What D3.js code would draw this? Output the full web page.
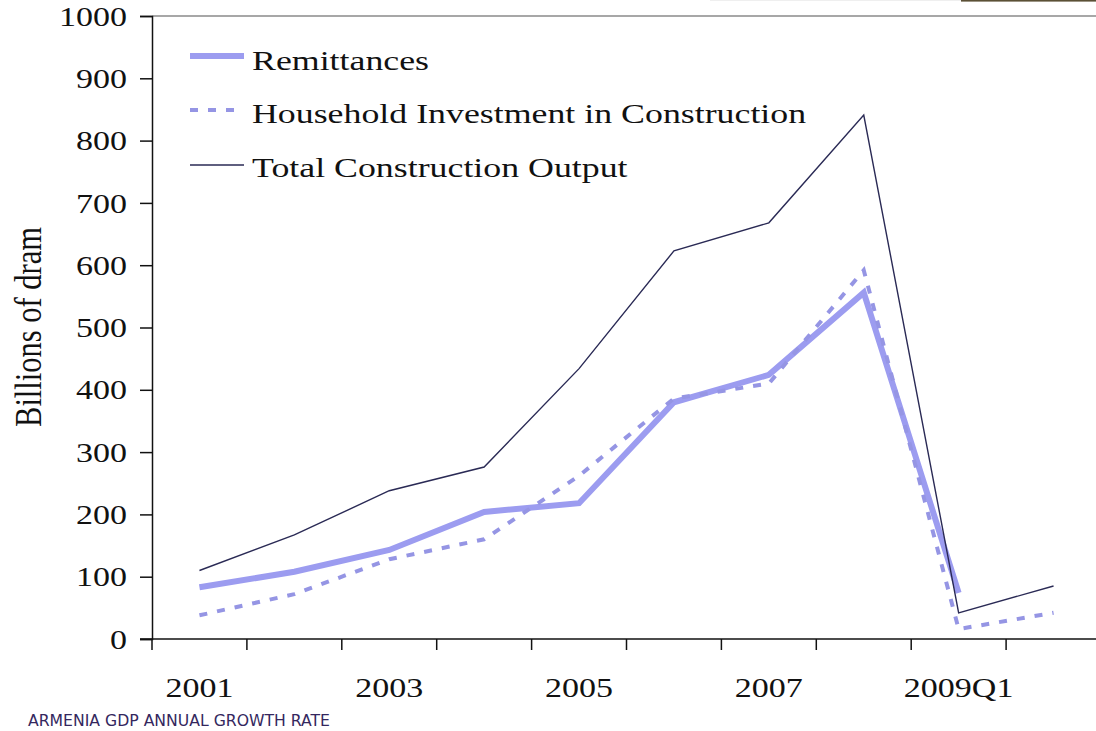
<!DOCTYPE html>
<html>
<head>
<meta charset="utf-8">
<script src="https://cdn.jsdelivr.net/npm/d3@7"></script>
<style>
  html, body { margin: 0; padding: 0; background: #fff; }
  svg { display: block; }
</style>
</head>
<body>
<svg id="chart" width="1096" height="731"></svg>
<script>
// Periods on the horizontal axis (labels shown on every other period)
const categories = ["2001", "2002", "2003", "2004", "2005", "2006", "2007", "2008", "2009Q1", "2009Q2"];
const tickLabels = ["2001", "2003", "2005", "2007", "2009Q1"];
const yTicks = [0, 100, 200, 300, 400, 500, 600, 700, 800, 900, 1000];

// Billions of dram
const remittances = [83, 108, 143, 204, 218, 380, 424, 556, 74, null];
const householdConstruction = [38, 72, 128, 160, 262, 386, 410, 592, 16, 42];
const totalConstruction = [110, 167, 238, 276, 434, 623, 668, 841, 42, 85];

const seriesNames = ["Remittances", "Household Investment in Construction", "Total Construction Output"];

const svg = d3.select("#chart");
const serif = "'Liberation Serif', 'Times New Roman', serif";
const stretch = 1.26;   // wide serif lettering

const plotLeft = 152, plotRight = 1101, plotTop = 16, plotBottom = 639;

const x = d3.scaleBand().domain(categories).range([plotLeft, plotRight]).padding(0);
const y = d3.scaleLinear().domain([0, 1000]).range([plotBottom, plotTop]);

// thin band across the very top right
svg.append("rect").attr("x", 961).attr("y", 0).attr("width", 135).attr("height", 1.6).attr("fill", "#5b5036");
svg.append("rect").attr("x", 710).attr("y", 0).attr("width", 251).attr("height", 1).attr("fill", "#efefef");

// top border of the plot area
svg.append("line")
  .attr("x1", plotLeft).attr("x2", 1096).attr("y1", y(1000)).attr("y2", y(1000))
  .attr("stroke", "#8a8a8a").attr("stroke-width", 1.6);

// Y axis
const yAxis = svg.append("g")
  .attr("transform", `translate(${plotLeft},0)`)
  .call(d3.axisLeft(y).tickValues(yTicks).tickSize(12).tickPadding(13).tickFormat(d3.format("d")));
yAxis.select(".domain").attr("stroke", "#111").attr("stroke-width", 1.5);
yAxis.selectAll(".tick line").attr("stroke", "#111").attr("stroke-width", 1.5);
yAxis.selectAll(".tick text")
  .attr("font-family", serif).attr("font-size", 27).attr("fill", "#111")
  .attr("x", -25 / stretch).attr("dy", "0.34em")
  .attr("transform", `scale(${stretch},1)`);

// X axis: boundary ticks between periods, labels centred on their period
const xAxis = svg.append("g").attr("transform", `translate(0,${plotBottom})`);
xAxis.append("line")
  .attr("x1", plotLeft - 12).attr("x2", 1096).attr("y1", 0).attr("y2", 0)
  .attr("stroke", "#111").attr("stroke-width", 1.5);
xAxis.selectAll("line.tick")
  .data(categories)
  .join("line")
  .attr("class", "tick")
  .attr("x1", d => x(d)).attr("x2", d => x(d))
  .attr("y1", 0).attr("y2", 11)
  .attr("stroke", "#111").attr("stroke-width", 1.5);
const xLabels = svg.append("g")
  .attr("transform", `translate(0,${plotBottom})`)
  .call(d3.axisBottom(x).tickValues(tickLabels).tickSize(0).tickPadding(0));
xLabels.select(".domain").remove();
xLabels.selectAll(".tick text")
  .attr("font-family", serif).attr("font-size", 27).attr("fill", "#111")
  .attr("y", 58).attr("dy", 0)
  .attr("transform", `scale(${stretch},1)`);

// Y axis title
svg.append("text")
  .attr("transform", `translate(41,327) scale(1.25,1) rotate(-90)`)
  .attr("text-anchor", "middle")
  .attr("font-family", serif).attr("font-size", 30.5).attr("fill", "#111")
  .text("Billions of dram");

// Lines
const cx = d => x(d) + x.bandwidth() / 2;
const line = vals => d3.line()
  .defined((d, i) => vals[i] != null)
  .x((d, i) => cx(categories[i]))
  .y((d, i) => y(vals[i]))(vals);

const styles = [
  { vals: remittances, stroke: "#9c9cf0", width: 6, dash: null },
  { vals: householdConstruction, stroke: "#9595e4", width: 4, dash: "8,10" },
  { vals: totalConstruction, stroke: "#2a2a55", width: 1.4, dash: null }
];

svg.append("g").selectAll("path")
  .data(styles)
  .join("path")
  .attr("d", s => line(s.vals))
  .attr("fill", "none")
  .attr("stroke", s => s.stroke)
  .attr("stroke-width", s => s.width)
  .attr("stroke-dasharray", s => s.dash)
  .attr("stroke-linejoin", "miter");

// Legend
const legend = svg.append("g");
const rows = [
  { name: seriesNames[0], style: styles[0], ly: 56, ty: 70 },
  { name: seriesNames[1], style: styles[1], ly: 110, ty: 123 },
  { name: seriesNames[2], style: styles[2], ly: 165, ty: 177 }
];
rows.forEach(r => {
  legend.append("line")
    .attr("x1", 190).attr("x2", 244).attr("y1", r.ly).attr("y2", r.ly)
    .attr("stroke", r.style.stroke)
    .attr("stroke-width", r.style.width)
    .attr("stroke-dasharray", r.style.dash);
  legend.append("text")
    .attr("transform", `translate(252,${r.ty}) scale(1.28,1)`)
    .attr("font-family", serif).attr("font-size", 28).attr("fill", "#111")
    .text(r.name);
});

// Caption below the chart
svg.append("text")
  .attr("x", 28).attr("y", 726)
  .attr("font-family", "'DejaVu Sans', sans-serif").attr("font-size", 16)
  .attr("fill", "#34275e")
  .attr("textLength", 302).attr("lengthAdjust", "spacingAndGlyphs")
  .text("ARMENIA GDP ANNUAL GROWTH RATE");
</script>
</body>
</html>
